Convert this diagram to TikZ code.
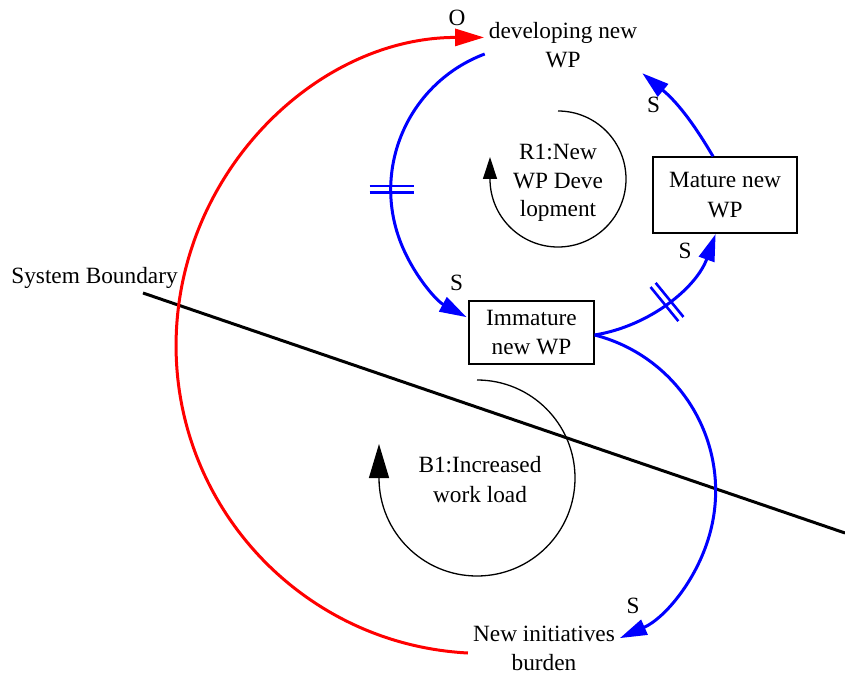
\documentclass[tikz,border=0pt]{standalone}
\usepackage{fontspec}
\setmainfont{Liberation Serif}
\usetikzlibrary{arrows.meta}
\begin{document}
\begin{tikzpicture}[x=1pt,y=1pt,
  every node/.style={font=\fontsize{23.3}{29.5}\selectfont, inner sep=0pt, align=center},
  stock/.style={draw, line width=1.3pt},
  poslink/.style={draw=blue, line width=3pt, -{Triangle[length=27pt,width=16pt]}},
  neglink/.style={draw=red, line width=3pt, -{Triangle[length=29pt,width=17pt]}},
  loopmark/.style={draw=black, line width=1.3pt},
  boundary/.style={draw=black, line width=3pt},
  delaymark/.pic={\draw[blue, line width=2.6pt] (-22,3.3) -- (22,3.3) (-22,-3.3) -- (22,-3.3);}
]
\useasboundingbox (0,0) rectangle (845,-676);

% variables
\node (dev) at (563,-45) {developing new\\WP};
\node[stock, minimum width=125pt, minimum height=63pt] (imm) at (531.5,-332.5) {Immature\\new WP};
\node[stock, minimum width=144pt, minimum height=76pt] (mat) at (725,-195) {Mature new\\WP};
\node (nib) at (544,-648.5) {New initiatives\\burden};

% loop labels
\node[font=\fontsize{23.3}{28.5}\selectfont] (r1) at (558,-183) {R1:New\\WP Deve\\lopment};
\node (b1) at (480,-479.5) {B1:Increased\\work load};

% system boundary
\node (sb) at (94.5,-278) {System Boundary};
\coordinate (bndA) at (143,-293);
\coordinate (bndB) at (845,-533);
\draw[boundary] (bndA) -- (bndB);

% loop direction markers
\draw[loopmark, -{Triangle[length=22pt,width=14pt]}]
  (r1.center) ++(0,72) arc[start angle=90, end angle=-180, radius=68] -- ++(0,22);
\draw[loopmark, -{Triangle[length=34pt,width=20pt]}]
  (477,-380) arc[start angle=90, end angle=-180, radius=98] -- ++(0,34);

% links
\draw[neglink] ([shift={(-5,-4.5)}]nib.west)
  arc[start angle=267, end angle=90, radius=308];
\draw[poslink] ([shift={(-4,-9)}]dev.west)
  arc[start angle=110.6, end angle=241.5, radius=145];
\draw[poslink] ([yshift=-2.5pt]imm.east)
  arc[start angle=-80.7, end angle=-19.6, radius=155];
\draw[poslink] ([xshift=-12pt]mat.north) to[bend right=10] ([shift={(5,-5)}]dev.south east);
\draw[poslink] ([yshift=-2.5pt]imm.east)
  arc[start angle=75.6, end angle=-66.1, radius=161];

% delays
\pic at (391.5,-189.5) {delaymark};
\pic[rotate=-50.8] at (667,-302) {delaymark};

% polarity labels
\node (pO) at (457,-18) {O};
\node (pS1) at (456.5,-283) {S};
\node (pS2) at (685,-251) {S};
\node (pS3) at (653.5,-105) {S};
\node (pS4) at (633,-606) {S};
\end{tikzpicture}
\end{document}
